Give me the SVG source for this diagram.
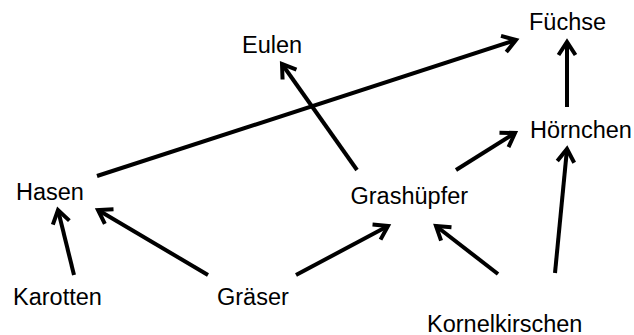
<svg xmlns="http://www.w3.org/2000/svg" width="634" height="335" viewBox="0 0 634 335">
  <style>
    .lbl { font-family: "Liberation Sans", Arial, sans-serif; font-size: 23.5px; fill: #000; }
    .edge { stroke: #000; stroke-width: 4; fill: none; marker-end: url(#chev); }
  </style>
  <defs>
    <!-- open chevron arrowhead -->
    <marker id="chev" markerUnits="userSpaceOnUse" markerWidth="40" markerHeight="40" viewBox="-20 -20 40 40" refX="0" refY="0" orient="auto" overflow="visible">
      <path d="M-13,-8.5 L0,0 L-13,8.5" fill="none" stroke="#000" stroke-width="4" stroke-linejoin="miter"/>
    </marker>
  </defs>
  <rect width="634" height="335" fill="#fff"/>

  <g id="edges">
    <line class="edge" x1="97" y1="176" x2="516" y2="40"/>
    <line class="edge" x1="357" y1="170" x2="282" y2="64"/>
    <line class="edge" x1="456" y1="170" x2="515" y2="133"/>
    <line class="edge" x1="567" y1="107" x2="567" y2="42"/>
    <line class="edge" x1="555" y1="273" x2="567" y2="149"/>
    <line class="edge" x1="498" y1="274" x2="436" y2="226"/>
    <line class="edge" x1="296" y1="275" x2="388" y2="226"/>
    <line class="edge" x1="208" y1="275" x2="98" y2="210"/>
    <line class="edge" x1="74" y1="275" x2="58" y2="210"/>
  </g>

  <g id="fuechse"><text class="lbl" x="529" y="30">Füchse</text></g>
  <g id="eulen"><text class="lbl" x="242" y="52.5">Eulen</text></g>
  <g id="hoernchen"><text class="lbl" x="530" y="137.5">Hörnchen</text></g>
  <g id="hasen"><text class="lbl" x="16" y="199.5">Hasen</text></g>
  <g id="grashuepfer"><text class="lbl" x="350.5" y="203.5">Grashüpfer</text></g>
  <g id="karotten"><text class="lbl" x="13" y="304.5">Karotten</text></g>
  <g id="graeser"><text class="lbl" x="217" y="304.5">Gräser</text></g>
  <g id="kornelkirschen"><text class="lbl" x="427" y="331.5">Kornelkirschen</text></g>
</svg>
